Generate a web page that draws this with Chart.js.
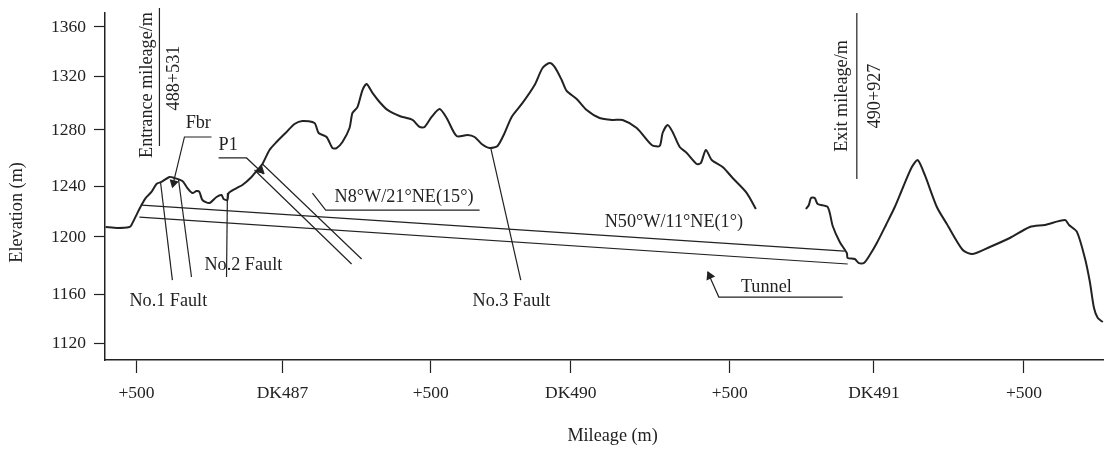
<!DOCTYPE html>
<html>
<head>
<meta charset="utf-8">
<style>
  html, body { margin: 0; padding: 0; background: #fff; }
  #chart { display: block; }
</style>
<script src="https://cdn.jsdelivr.net/npm/chart.js@4"></script>
</head>
<body>
<canvas id="chart" width="1104" height="449"></canvas>
<script>
// axis values (the printed ticks are not evenly spaced)
const xTickValues = [0, 496, 1000, 1476, 2016, 2506, 3016];
const xTickLabels = ['+500', 'DK487', '+500', 'DK490', '+500', 'DK491', '+500'];
const yTickValues = [1360, 1322.8, 1281.9, 1239.4, 1200.8, 1157.5, 1120];
const yTickLabels = ['1360', '1320', '1280', '1240', '1200', '1160', '1120'];

// ground profile, west part
const westStation = [-105, -65, -24, -17, 3, 17, 31, 51, 68, 85, 112, 129, 156, 173, 190, 204, 214, 224, 248, 272, 289, 296, 309, 313, 340, 360, 391, 411, 428, 452, 476, 510, 537, 564, 605, 619, 646, 666, 680, 700, 724, 734, 751, 768, 782, 802, 826, 853, 894, 938, 962, 979, 1003, 1030, 1054, 1088, 1125, 1149, 1173, 1200, 1227, 1251, 1275, 1312, 1353, 1380, 1404, 1421, 1445, 1462, 1496, 1530, 1574, 1618, 1652, 1700, 1751, 1778, 1788, 1805, 1822, 1846, 1870, 1904, 1918, 1935, 1955, 1992, 2026, 2074, 2105];
const westElevation = [1208.3, 1207.6, 1208.3, 1209.9, 1218.9, 1225, 1230.3, 1234.9, 1241, 1242.5, 1246.3, 1245.5, 1243.2, 1237.9, 1234.1, 1235.6, 1234.9, 1228.8, 1226.5, 1231.1, 1232.6, 1229.6, 1228.8, 1234.1, 1237.9, 1240.2, 1246.3, 1251.6, 1256.1, 1266.7, 1272.8, 1280.4, 1286.4, 1288.7, 1287.2, 1279.6, 1276.6, 1268.2, 1268.2, 1272.8, 1283.4, 1294.8, 1299.3, 1312.2, 1316.8, 1310, 1303.1, 1297.1, 1292.5, 1289.5, 1284.2, 1284.2, 1291.8, 1297.8, 1291, 1277.3, 1278.1, 1276.6, 1271.3, 1268.2, 1269.8, 1279.6, 1291.8, 1302.4, 1316, 1328.9, 1332.7, 1329.7, 1319.8, 1311.5, 1305.4, 1297.1, 1291, 1289.5, 1289.5, 1283.4, 1270.5, 1269.8, 1279.6, 1285.7, 1280.4, 1269, 1264.5, 1256.1, 1256.9, 1266.7, 1259.1, 1253.8, 1245.5, 1234.1, 1222];

// ground profile, east part
const eastStation = [2275, 2285, 2292, 2305, 2315, 2349, 2366, 2390, 2414, 2417, 2441, 2455, 2472, 2492, 2516, 2547, 2577, 2604, 2635, 2655, 2679, 2720, 2754, 2808, 2842, 2900, 2968, 3036, 3087, 3155, 3169, 3196, 3223, 3240, 3254, 3267, 3284];
const eastElevation = [1222, 1225, 1230.3, 1230.3, 1225.8, 1223.5, 1209.1, 1197, 1188.6, 1184.8, 1184.1, 1181, 1181, 1187.1, 1196.2, 1209.9, 1223.5, 1237.9, 1253.8, 1259.1, 1247.8, 1223.5, 1210.6, 1190.9, 1187.9, 1193.2, 1200, 1208.3, 1209.9, 1213.6, 1209.9, 1204.6, 1184.8, 1166.6, 1146.9, 1139.3, 1136.3];

// tunnel, faults, leaders: [stations, elevations]
const tunnelTop = [[17, 2407], [1225, 1190.1]];
const tunnelBottom = [[10, 2417], [1215.9, 1180.3]];
const fault1a = [[82, 122], [1241.7, 1168.1]];
const fault1b = [[143, 187], [1244, 1170.4]];
const fault2 = [[309, 306], [1234.1, 1170.4]];
const fault3 = [[1204, 1306], [1268.2, 1168.1]];
const p1Top = [[428, 765], [1256.1, 1184.1]];
const p1Bottom = [[401, 731], [1251.6, 1180.3]];
const n8Leader = [[598, 643, 1166], [1234.1, 1221.2, 1221.2]];
const fbrLeader = [[255, 163, 122], [1276.6, 1276.6, 1238.7]];
const p1Leader = [[279, 374, 432], [1260.7, 1260.7, 1248.5]];
const tunnelLeader = [[2400, 1979, 1941], [1155.2, 1155.2, 1174.2]];
const entranceBar = [[78, 78], [1374.4, 1269.8]];
const exitBar = [[2448, 2448], [1370.6, 1244.7]];
const lineFeatures = [tunnelTop, tunnelBottom, fault1a, fault1b, fault2, fault3, p1Top, p1Bottom, n8Leader, fbrLeader, p1Leader, tunnelLeader, entranceBar, exitBar];

const arrowStation = [126, 422, 1948];
const arrowElevation = [1241.7, 1251.3, 1171.2];
const arrowAngles = [-166, 133, -24];

// free text on the drawing
const noteTexts = ['Fbr', 'P1', 'N8°W/21°NE(15°)', 'N50°W/11°NE(1°)', 'Tunnel', 'No.1 Fault', 'No.2 Fault', 'No.3 Fault'];
const noteStation = [167, 279, 673, 1591, 2054, -24, 231, 1142];
const noteElevation = [1287.2, 1270.5, 1231.1, 1212.1, 1162.8, 1152.2, 1179.5, 1152.2];
const sideTexts = ['Entrance mileage/m', '488+531', 'Exit mileage/m', '490+927', 'Elevation (m)'];
const sideStation = [37, 129, 2400, 2509, -405];
const sideElevation = [1316, 1321.3, 1307.7, 1307.7, 1219.4];
const xTitle = 'Mileage (m)';

const INK = '#222';
const FONT = '18.2px "Liberation Serif", serif';

function toPoints(xs, ys) {
  return xs.map((x, i) => ({ x, y: ys[i] }));
}

function lineDataset(pair, width, tension) {
  return {
    data: toPoints(pair[0], pair[1]),
    borderColor: INK,
    borderWidth: width,
    pointRadius: 0,
    tension: tension || 0,
    clip: false,
  };
}

const textPlugin = {
  id: 'notes',
  afterDraw(chart) {
    const { ctx, scales } = chart;
    ctx.save();
    ctx.fillStyle = INK;
    ctx.font = FONT;
    ctx.textBaseline = 'middle';
    ctx.textAlign = 'left';
    noteTexts.forEach((text, i) => {
      ctx.fillText(text, scales.x.getPixelForValue(noteStation[i]), scales.y.getPixelForValue(noteElevation[i]));
    });
    ctx.textAlign = 'center';
    sideTexts.forEach((text, i) => {
      ctx.save();
      ctx.translate(scales.x.getPixelForValue(sideStation[i]), scales.y.getPixelForValue(sideElevation[i]));
      ctx.rotate(-Math.PI / 2);
      ctx.fillText(text, 0, 0);
      ctx.restore();
    });
    ctx.fillText(xTitle, scales.x.getPixelForValue(1618), scales.y.getPixelForValue(1049.8));
    ctx.restore();
  },
};

new Chart(document.getElementById('chart'), {
  type: 'line',
  data: {
    datasets: [
      lineDataset([westStation, westElevation], 2, 0.25),
      lineDataset([eastStation, eastElevation], 2, 0.25),
      ...lineFeatures.map((pair) => lineDataset(pair, 1.2)),
      {
        data: toPoints(arrowStation, arrowElevation),
        showLine: false,
        pointStyle: 'triangle',
        pointRadius: 5.5,
        pointRotation: arrowAngles,
        pointBackgroundColor: INK,
        pointBorderColor: INK,
        pointBorderWidth: 0,
        clip: false,
      },
    ],
  },
  options: {
    responsive: false,
    animation: false,
    layout: { autoPadding: false, padding: { top: 13 } },
    plugins: { legend: { display: false }, tooltip: { enabled: false } },
    scales: {
      x: {
        type: 'linear',
        min: -107,
        max: 3288,
        afterFit(scale) {
          scale.height = 89;
          scale.paddingLeft = 0;
          scale.paddingRight = 0;
        },
        afterBuildTicks(scale) { scale.ticks = xTickValues.map((value) => ({ value })); },
        grid: { drawOnChartArea: false, tickLength: 13, tickColor: INK, tickWidth: 1.2 },
        border: { color: INK, width: 1.5 },
        ticks: {
          autoSkip: false,
          maxRotation: 0,
          padding: 10,
          color: INK,
          font: { family: '"Liberation Serif", serif', size: 17.5 },
          callback: (value, index) => xTickLabels[index],
        },
      },
      y: {
        min: 1107.5,
        max: 1370.6,
        afterFit(scale) {
          scale.width = 105;
          scale.paddingTop = 0;
          scale.paddingBottom = 0;
        },
        afterBuildTicks(scale) { scale.ticks = yTickValues.map((value) => ({ value })); },
        grid: { drawOnChartArea: false, tickLength: 11, tickColor: INK, tickWidth: 1.2 },
        border: { color: INK, width: 1.5 },
        ticks: {
          autoSkip: false,
          padding: 8,
          color: INK,
          font: { family: '"Liberation Serif", serif', size: 17.5 },
          callback: (value, index) => yTickLabels[index],
        },
      },
    },
  },
  plugins: [textPlugin],
});
</script>
</body>
</html>
